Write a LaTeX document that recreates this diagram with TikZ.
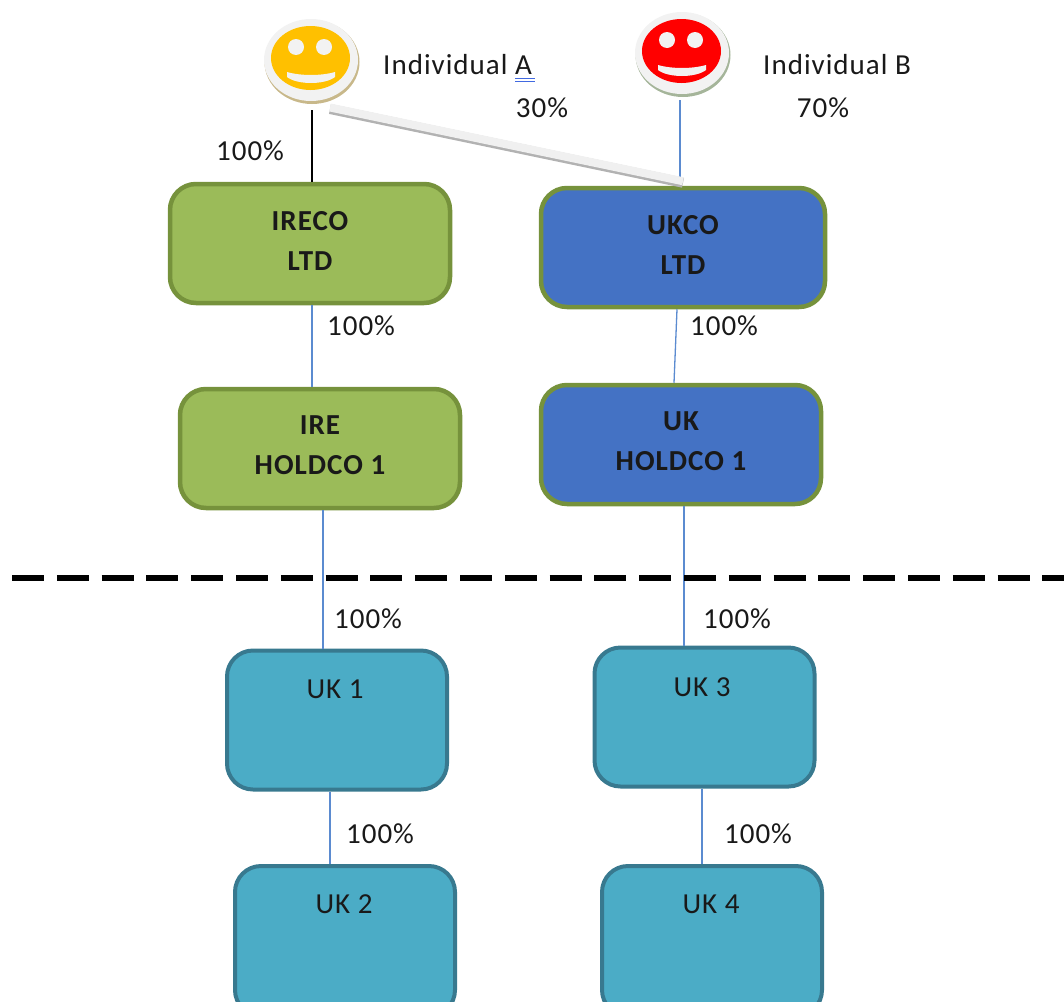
\documentclass[tikz,border=0pt]{standalone}
\usepackage{xcolor}
\usepackage{fontspec}
\setmainfont{Carlito}[LetterSpace=3.5]
\usetikzlibrary{shapes.geometric}

\definecolor{irefill}{HTML}{9BBB59}
\definecolor{ireline}{HTML}{76923C}
\definecolor{ukfill}{HTML}{4472C4}
\definecolor{subfill}{HTML}{4BACC6}
\definecolor{subline}{HTML}{38798F}
\definecolor{tieblue}{HTML}{5B8BD0}
\definecolor{squiggle}{HTML}{4169E1}
\definecolor{facea}{HTML}{FFC000}
\definecolor{rima}{HTML}{C8B88A}
\definecolor{rimb}{HTML}{A5B59A}

% double rule under the letter
\newcommand{\markedA}{\rlap{\color{squiggle}\rule[-5pt]{20pt}{1.3pt}}\rlap{\color{squiggle}\rule[-8pt]{20pt}{1.3pt}}A}

% round face: name, centre, colour, rim shadow
\newcommand{\smiley}[4]{
  \node[ellipse,fill=#4,minimum width=95pt,minimum height=84pt,inner sep=0pt] at ([shift={(1,2)}]#2) {};
  \node[ellipse,fill=black!5,minimum width=94pt,minimum height=82pt,inner sep=0pt] (#1) at (#2) {};
  \begin{scope}[shift={(#2)}]
    \fill[#3] (-0.5,-2) ellipse (39.5 and 32);
    \fill[black!5] (-15,-13) circle (8);
    \fill[black!5] (13,-13) circle (8);
    \fill[black!5] (-24,12) .. controls (-10,16) and (10,16) .. (24,12)
      -- (24,17) .. controls (14,25) and (-14,25) .. (-24,17) -- cycle;
  \end{scope}
}

\begin{document}
\begin{tikzpicture}[
  x=1pt, y=-1pt,
  every node/.style={font=\fontsize{29}{29}\selectfont,text=black!90},
  box/.style={rectangle,rounded corners=26pt,line width=4.5pt,
    minimum width=280pt,inner sep=0pt,align=center,text depth=6pt,font=\fontsize{29}{40}\selectfont\bfseries},
  irebox/.style={box,draw=ireline,fill=irefill,minimum height=119pt},
  ukbox/.style={box,draw=ireline,fill=ukfill,minimum height=119pt},
  subbox/.style={box,draw=subline,fill=subfill,line width=4pt,minimum width=220pt,minimum height=139pt},
  tie/.style={tieblue,line width=1.3pt},
  pct/.style={inner sep=0pt}
]
  \useasboundingbox (0,0) rectangle (1064,1001);
  \clip (0,0) rectangle (1064,1001);

  \smiley{facea}{311,60}{facea}{rima}
  \smiley{faceb}{682,53}{red}{rimb}

  \node (ireco) [irebox] at (310,243.5) {IRECO\\LTD};
  \node (ukco) [ukbox,minimum width=284pt] at (683,247.5) {UKCO\\LTD};
  \node (ire) [irebox] at (320,448.5) {IRE\\HOLDCO 1};
  \node (ukhold) [ukbox] at (681,444.5) {UK\\HOLDCO 1};
  \node (uka) [subbox] at (337,720) {};
  \node (ukc) [subbox] at (704.5,717) {};
  \node (ukb) [subbox,minimum height=150pt] at (345,941) {};
  \node (ukd) [subbox,minimum height=150pt] at (712,941) {};

  \node (uka text) at (335,689) {UK 1};
  \node (ukc text) at (702,687) {UK 3};
  \node (ukb text) at (344,904) {UK 2};
  \node (ukd text) at (711,904) {UK 4};

  \node (inda) [pct,anchor=base west] at (383,74) {Individual \markedA};
  \node (indb) [pct,anchor=base west] at (763,74) {Individual B};
  \node (pa) [pct] at (542,108) {30\%};
  \node (pb) [pct] at (823,108) {70\%};
  \node (p1) [pct] at (250,151) {100\%};
  \node (p2) [pct] at (361,326) {100\%};
  \node (p3) [pct] at (724,326) {100\%};
  \node (p4) [pct] at (368,619) {100\%};
  \node (p5) [pct] at (737,619) {100\%};
  \node (p6) [pct] at (380,834) {100\%};
  \node (p7) [pct] at (758,834) {100\%};

  % ownership ties
  \draw[black,line width=1.3pt] ([shift={(1,50)}]facea.center) -- ([xshift=2pt]ireco.north);
  \draw[tie] ([shift={(-2,47)}]faceb.center) -- ([shift={(-3,-4)}]ukco.north);
  \draw[black!30,line width=10pt] ([shift={(19,49)}]facea.center) -- ([shift={(0,-3)}]ukco.north);
  \draw[black!6,line width=8pt] ([shift={(19,47.5)}]facea.center) -- ([shift={(0,-4.5)}]ukco.north);
  \draw[tie] ([xshift=2pt]ireco.south) -- ([xshift=-8pt]ire.north);
  \draw[tie] ([xshift=-6pt]ukco.south) -- ([xshift=-7pt]ukhold.north);
  \draw[tie] ([xshift=3pt]ire.south) -- ([xshift=-14pt]uka.north);
  \draw[tie] ([xshift=3pt]ukhold.south) -- ([xshift=-20.5pt]ukc.north);
  \draw[tie] ([xshift=-7pt]uka.south) -- ([xshift=-15pt]ukb.north);
  \draw[tie] ([xshift=-2.5pt]ukc.south) -- ([xshift=-10pt]ukd.north);

  % border between the two levels
  \coordinate (cut left) at (12,578);
  \coordinate (cut right) at (1064,578);
  \draw[black,line width=6pt,dash pattern=on 32pt off 12.8pt] (cut left) -- (cut right);
\end{tikzpicture}
\end{document}
